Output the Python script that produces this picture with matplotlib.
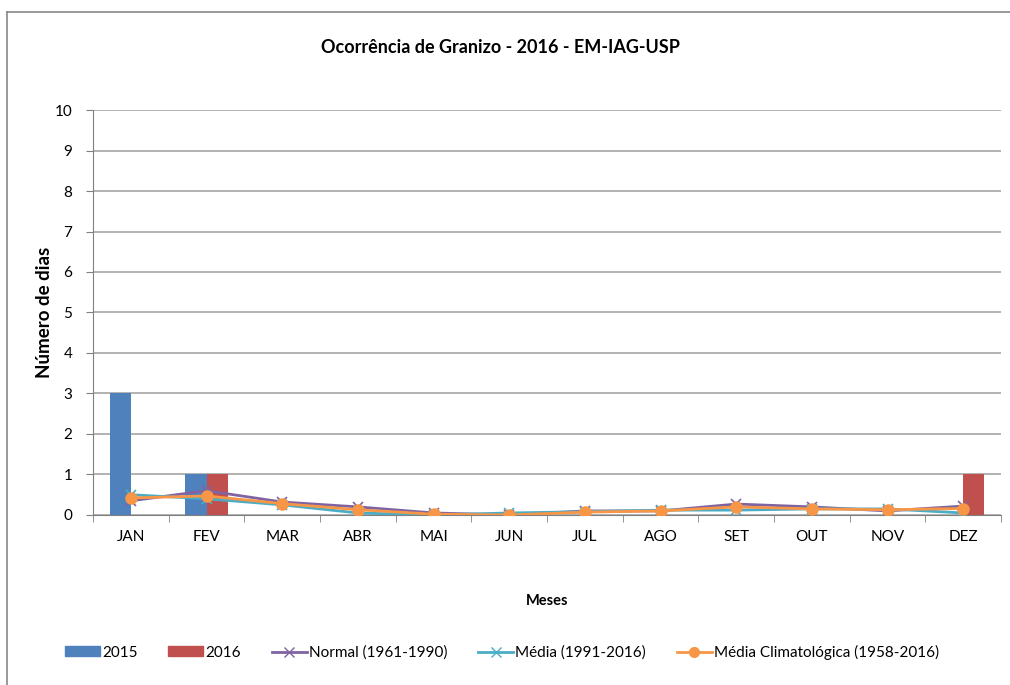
import numpy as np
import matplotlib.pyplot as plt
from matplotlib.lines import Line2D

plt.rcParams['font.family'] = ['Lato', 'DejaVu Sans']

meses = ['JAN', 'FEV', 'MAR', 'ABR', 'MAI', 'JUN', 'JUL', 'AGO', 'SET', 'OUT', 'NOV', 'DEZ']
ano_2015 = [3, 1, 0, 0, 0, 0, 0, 0, 0, 0, 0, 0]
ano_2016 = [0, 1, 0, 0, 0, 0, 0, 0, 0, 0, 0, 1]
normal_61_90 = [0.35, 0.6, 0.32, 0.2, 0.05, 0.0, 0.1, 0.1, 0.27, 0.2, 0.1, 0.22]
media_91_16 = [0.5, 0.4, 0.25, 0.05, 0.0, 0.05, 0.08, 0.12, 0.12, 0.15, 0.15, 0.05]
media_clim = [0.42, 0.47, 0.28, 0.13, 0.02, 0.0, 0.07, 0.1, 0.2, 0.15, 0.13, 0.16]

c_2015 = '#4F81BD'
c_2016 = '#C0504D'
c_normal = '#8064A2'
c_media = '#4BACC6'
c_clim = '#F79646'

fig = plt.figure(figsize=(10.1, 6.85), dpi=100)
ax = fig.add_axes([0.0921, 0.2482, 0.8990, 0.5912])

x = np.arange(len(meses))
w = 0.28
ax.bar(x - w / 2, ano_2015, w, color=c_2015, zorder=2)
ax.bar(x + w / 2, ano_2016, w, color=c_2016, zorder=2)
ax.plot(x, normal_61_90, color=c_normal, lw=2, marker='x', ms=7, mew=1.2, zorder=3)
ax.plot(x, media_91_16, color=c_media, lw=2, marker='x', ms=7, mew=1.2, zorder=3)
ax.plot(x, media_clim, color=c_clim, lw=2, marker='o', ms=8, zorder=4)

ax.set_xlim(-0.5, len(meses) - 0.5)
ax.set_ylim(0, 10)
ax.set_yticks(range(0, 11))
ax.yaxis.grid(True, color='#A6A6A6', lw=1.2)
ax.set_axisbelow(True)
ax.set_xticks(x)
ax.set_xticklabels(meses)
ax.set_xticks(np.arange(-0.5, len(meses)), minor=True)
ax.tick_params(axis='x', which='major', length=0, pad=11, labelsize=11)
ax.tick_params(axis='x', which='minor', length=5, color='#808080', direction='out')
ax.tick_params(axis='y', length=5, color='#808080', labelsize=11, pad=10)
for s in ['top', 'right']:
    ax.spines[s].set_visible(False)
ax.spines['left'].set_color('#808080')
ax.spines['bottom'].set_color('#808080')

ax.set_ylabel('Número de dias', fontsize=13.5, fontweight='bold', labelpad=1)
ax.set_xlabel('Meses', fontsize=10.5, fontweight='bold', labelpad=36)
fig.text(0.495, 0.931, 'Ocorrência de Granizo - 2016 - EM-IAG-USP', ha='center', va='center',
         fontsize=13, fontweight='bold')

handles = [
    plt.Rectangle((0, 0), 1, 1, color=c_2015),
    plt.Rectangle((0, 0), 1, 1, color=c_2016),
    Line2D([], [], color=c_normal, lw=2, marker='x', ms=7),
    Line2D([], [], color=c_media, lw=2, marker='x', ms=7),
    Line2D([], [], color=c_clim, lw=2, marker='o', ms=7),
]
labels = ['2015', '2016', 'Normal (1961-1990)', 'Média (1991-2016)', 'Média Climatológica (1958-2016)']
fig.legend(handles, labels, loc='center', bbox_to_anchor=(0.497, 0.048), ncol=5, frameon=False,
           fontsize=11, handlelength=2.3, handleheight=0.6, handletextpad=0.15, columnspacing=2.0)

# outer chart border (cut off at right and bottom)
fig.add_artist(Line2D([7 / 1010, 7 / 1010], [0, 1 - 12 / 685], transform=fig.transFigure,
                      color='#888888', lw=1.2))
fig.add_artist(Line2D([7 / 1010, 1], [1 - 12 / 685, 1 - 12 / 685], transform=fig.transFigure,
                      color='#888888', lw=1.2))

fig.savefig('out.png', dpi=100)
